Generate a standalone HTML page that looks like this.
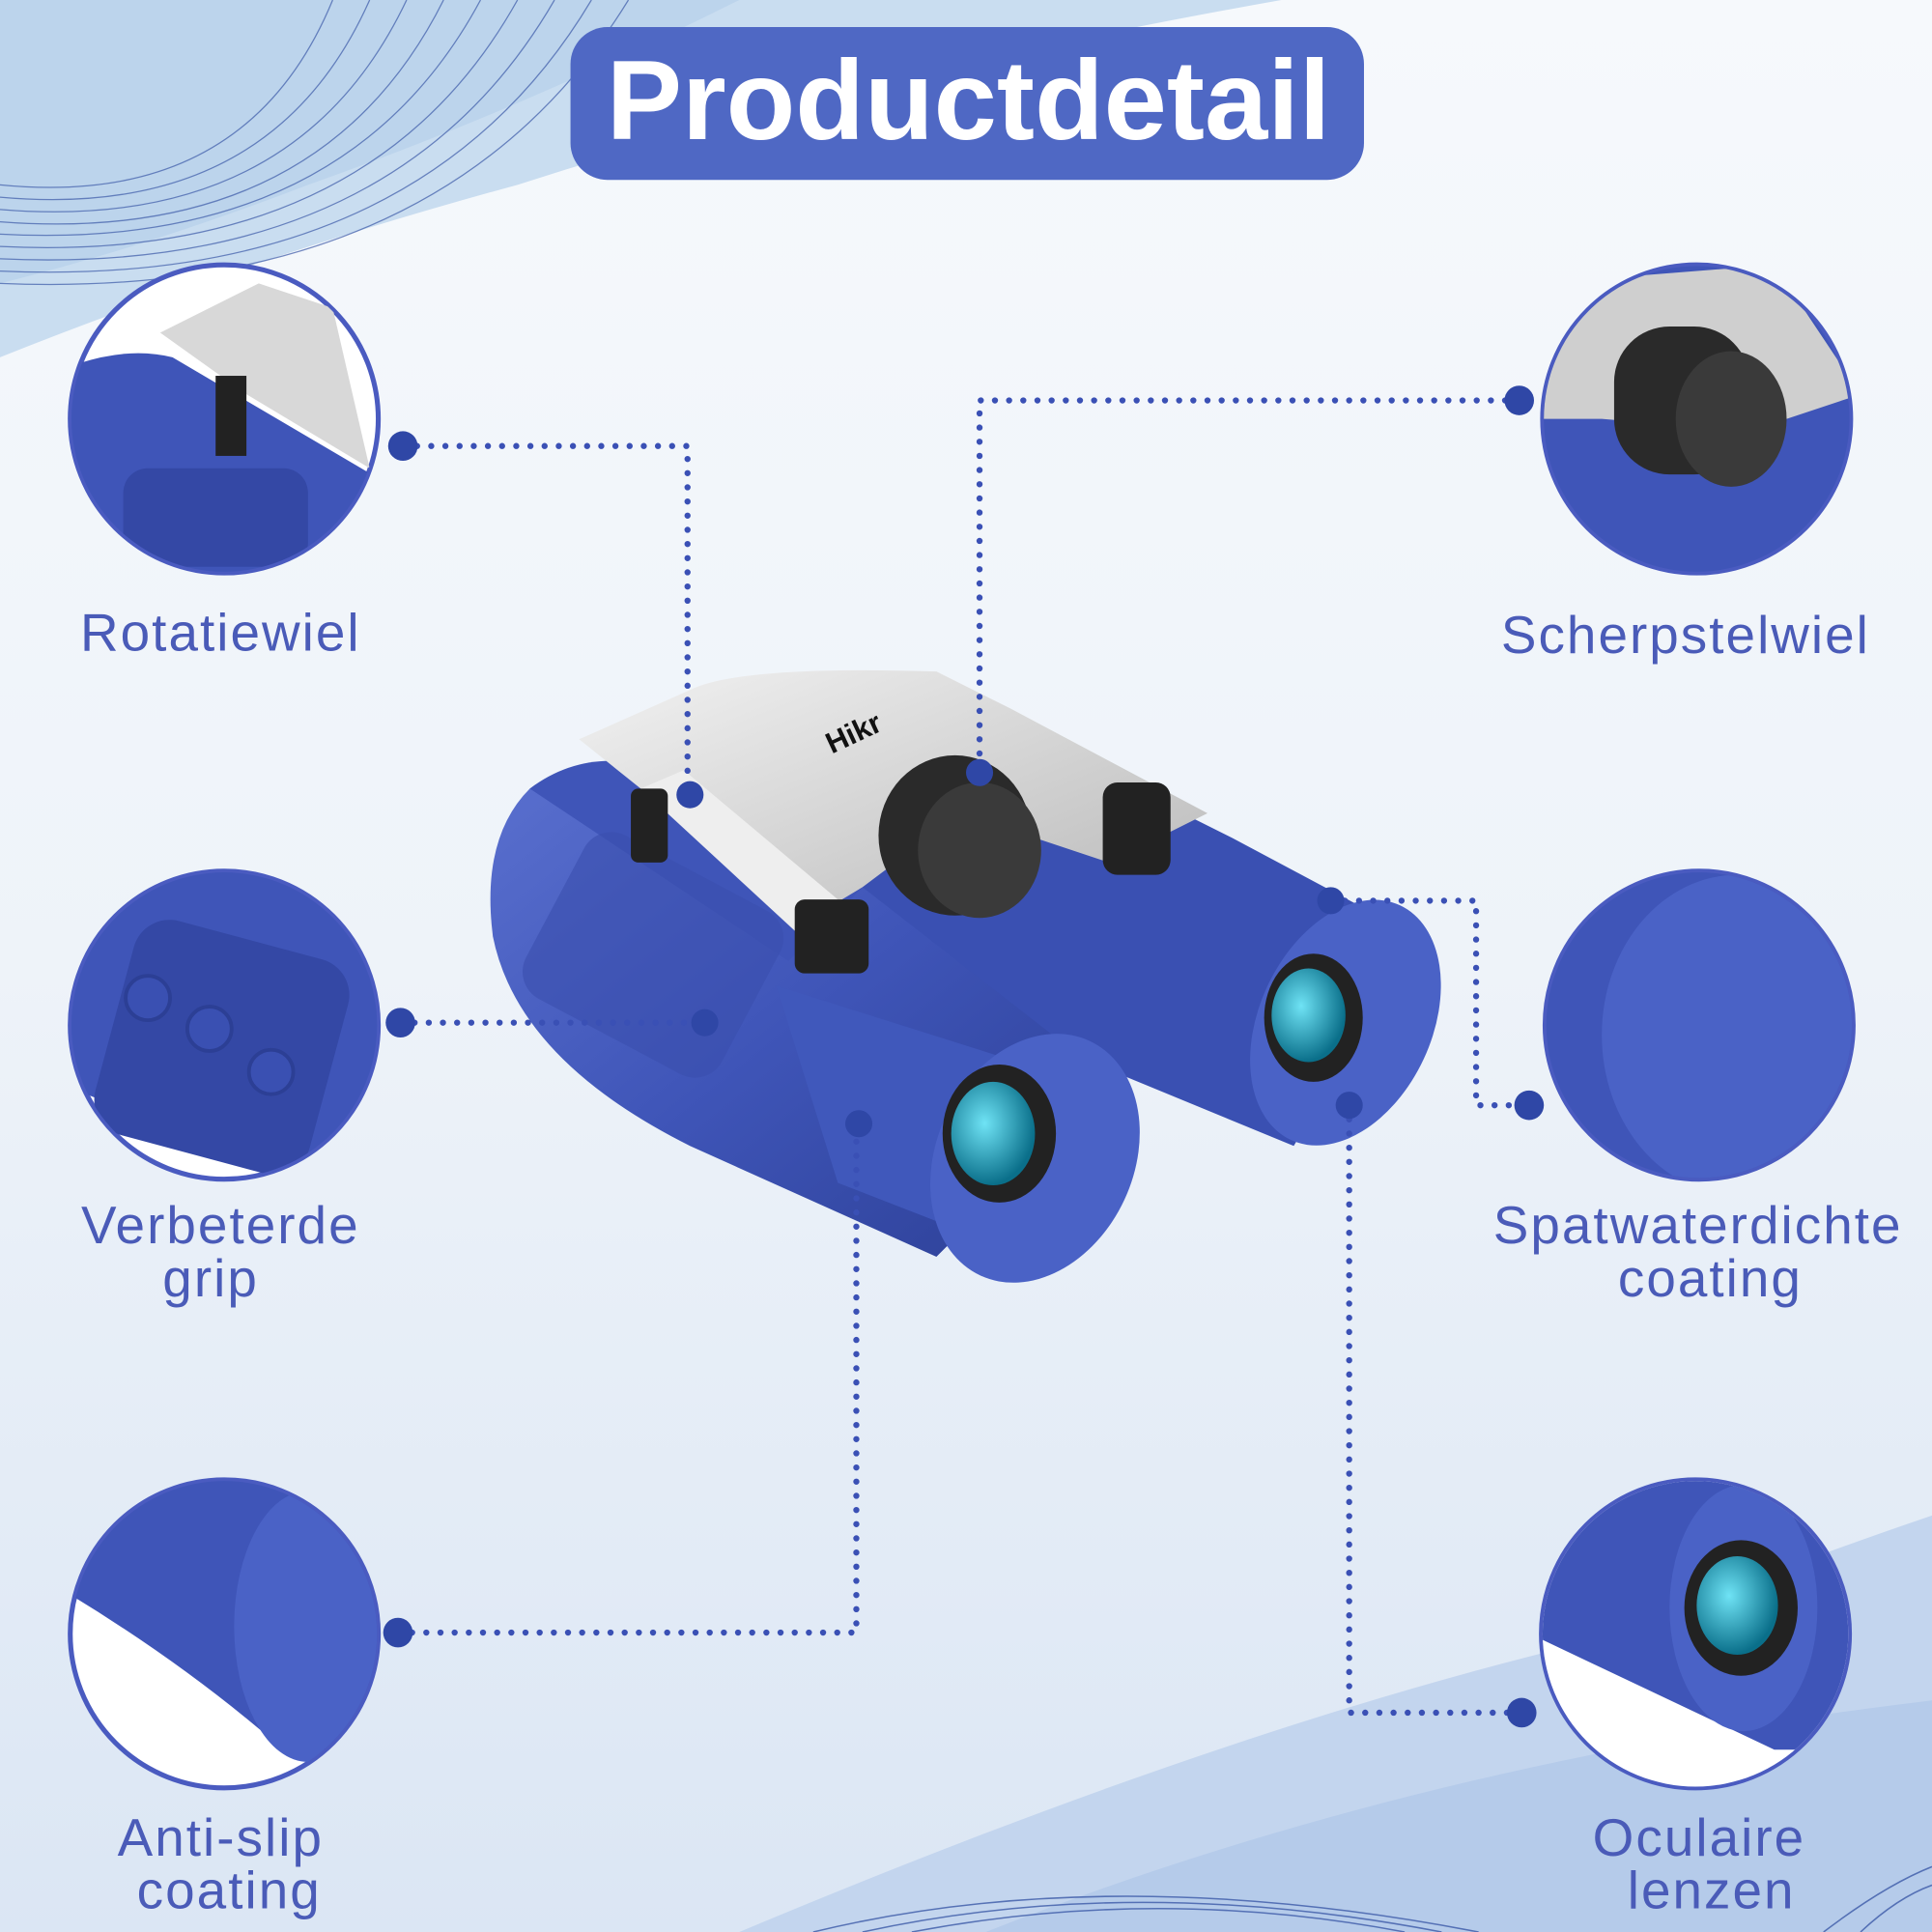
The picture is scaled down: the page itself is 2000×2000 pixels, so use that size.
<!DOCTYPE html>
<html><head><meta charset="utf-8"><style>
html,body{margin:0;padding:0;width:2000px;height:2000px;overflow:hidden;background:#eef3f9}
svg{display:block}
text{font-family:"Liberation Sans",sans-serif}
</style></head><body>
<svg width="2000" height="2000" viewBox="0 0 1568 1568" xmlns="http://www.w3.org/2000/svg">
<defs>
<linearGradient id="bg" x1="0" y1="0" x2="0" y2="1">
<stop offset="0" stop-color="#f6f9fc"/><stop offset="0.5" stop-color="#eef3f9"/><stop offset="1" stop-color="#dbe6f4"/>
</linearGradient>
<linearGradient id="barrel" x1="0" y1="0" x2="1" y2="1">
<stop offset="0" stop-color="#5a70cf"/><stop offset="0.5" stop-color="#3f55b8"/><stop offset="1" stop-color="#2c3f95"/>
</linearGradient>
<radialGradient id="lens" cx="0.4" cy="0.4" r="0.6"><stop offset="0" stop-color="#6fe3f5"/><stop offset="1" stop-color="#0a6f8a"/></radialGradient>
<linearGradient id="silver" x1="0" y1="0" x2="1" y2="1"><stop offset="0" stop-color="#f2f2f2"/><stop offset="1" stop-color="#b8b8b8"/></linearGradient>
<clipPath id="c1"><circle cx="182" cy="340" r="124"/></clipPath>
<clipPath id="c2"><circle cx="182" cy="832" r="124"/></clipPath>
<clipPath id="c3"><circle cx="182" cy="1326" r="124"/></clipPath>
<clipPath id="c4"><circle cx="1377" cy="340" r="124"/></clipPath>
<clipPath id="c5"><circle cx="1379" cy="832" r="124"/></clipPath>
<clipPath id="c6"><circle cx="1376" cy="1326" r="124"/></clipPath>
</defs>
<rect width="1568" height="1568" fill="url(#bg)"/>
<path d="M0 0 H1040 Q700 60 420 150 Q200 210 0 290 Z" fill="#c9ddf0"/>
<path d="M0 0 H600 Q420 90 250 150 Q120 200 0 230 Z" fill="#bcd4ec"/>
<g fill="none" stroke="#3c5aa8" stroke-width="1" opacity="0.7">
<path d="M0 150 Q200 170 270 0"/><path d="M0 160 Q220 180 300 0"/><path d="M0 170 Q240 190 330 0"/><path d="M0 180 Q260 200 360 0"/><path d="M0 190 Q280 205 390 0"/><path d="M0 200 Q300 215 420 0"/><path d="M0 210 Q320 225 450 0"/><path d="M0 220 Q340 235 480 0"/><path d="M0 230 Q360 245 510 0"/>
</g>
<path d="M600 1568 Q1000 1400 1300 1330 Q1450 1270 1568 1230 V1568 Z" fill="#c3d5ee"/>
<path d="M800 1568 Q1150 1430 1568 1380 V1568 Z" fill="#b5cbea"/>
<g fill="none" stroke="#3c5aa8" stroke-width="1.2" opacity="0.8">
<path d="M660 1568 Q900 1510 1200 1568"/><path d="M700 1568 Q920 1520 1170 1568"/><path d="M740 1568 Q940 1530 1140 1568"/><path d="M1480 1568 Q1530 1530 1568 1515"/><path d="M1510 1568 Q1540 1540 1568 1530"/>
</g>
<rect x="463" y="22" width="644" height="124" rx="30" fill="#4f68c4"/>
<text x="786" y="113" font-size="92" font-weight="bold" fill="#fff" text-anchor="middle">Productdetail</text>

<g>
<path d="M430 640 Q390 680 400 760 Q420 860 560 930 L760 1020 L900 880 L720 620 Z" fill="url(#barrel)"/>
<path d="M430 640 Q470 610 520 620 L720 700 L640 780 Z" fill="#3f55b8"/>
<path d="M760 560 L1000 680 L1150 760 L1050 930 L880 860 L700 720 Z" fill="#3a50b2"/>
<ellipse cx="1092" cy="830" rx="70" ry="105" transform="rotate(25 1092 830)" fill="#4a62c6"/>
<ellipse cx="1066" cy="826" rx="40" ry="52" fill="#222"/>
<ellipse cx="1062" cy="824" rx="30" ry="38" fill="url(#lens)"/>
<path d="M630 800 L820 860 L900 900 L860 1030 L680 960 Z" fill="#4058bb"/>
<ellipse cx="840" cy="940" rx="80" ry="105" transform="rotate(25 840 940)" fill="#4a62c6"/>
<ellipse cx="811" cy="920" rx="46" ry="56" fill="#222"/>
<ellipse cx="806" cy="920" rx="34" ry="42" fill="url(#lens)"/>
<rect x="440" y="700" width="180" height="150" rx="25" transform="rotate(28 530 775)" fill="#3a4fae" opacity="0.6"/>
<path d="M470 600 L560 560 Q600 540 760 545 L820 575 L980 660 L900 700 L780 660 L700 720 L650 750 L520 640 Z" fill="url(#silver)"/>
<path d="M520 640 L650 760 L680 730 L555 625 Z" fill="#eee"/>
<rect x="645" y="730" width="60" height="60" rx="8" fill="#222"/>
<rect x="512" y="640" width="30" height="60" rx="6" fill="#222"/>
<ellipse cx="775" cy="678" rx="62" ry="65" fill="#2a2a2a"/>
<ellipse cx="795" cy="690" rx="50" ry="55" fill="#3a3a3a"/>
<rect x="895" y="635" width="55" height="75" rx="12" fill="#222"/>
<text x="675" y="612" font-size="24" font-weight="bold" fill="#111" transform="rotate(-25 675 612)">Hikr</text>
</g>

<g stroke="#4a5bc0" stroke-width="4">
<circle cx="182" cy="340" r="125" fill="#fff"/>
<circle cx="182" cy="832" r="125" fill="#fff"/>
<circle cx="182" cy="1326" r="125" fill="#fff"/>
<circle cx="1377" cy="340" r="125" fill="#fff"/>
<circle cx="1379" cy="832" r="125" fill="#fff"/>
<circle cx="1376" cy="1326" r="125" fill="#fff"/>
</g>
<g clip-path="url(#c1)"><path d="M50 300 Q100 280 140 290 L310 390 L310 470 L50 470 Z" fill="#3f55b8"/><path d="M130 270 L210 230 L270 250 L300 380 L200 320 Z" fill="#d8d8d8"/><rect x="175" y="305" width="25" height="65" fill="#222"/><rect x="100" y="380" width="150" height="80" rx="20" fill="#3448a5"/></g>
<g clip-path="url(#c2)"><path d="M50 700 H320 V900 Q250 960 200 940 L50 880 Z" fill="#3f55b8"/><rect x="90" y="760" width="180" height="180" rx="30" fill="#3448a5" transform="rotate(15 180 850)"/><circle cx="120" cy="810" r="18" fill="#3a50b2" stroke="#2c3f95" stroke-width="3"/><circle cx="170" cy="835" r="18" fill="#3a50b2" stroke="#2c3f95" stroke-width="3"/><circle cx="220" cy="870" r="18" fill="#3a50b2" stroke="#2c3f95" stroke-width="3"/></g>
<g clip-path="url(#c3)"><path d="M50 1200 H320 V1420 L230 1420 Q150 1350 50 1290 Z" fill="#3f55b8"/><ellipse cx="250" cy="1320" rx="60" ry="110" fill="#4a62c6"/></g>
<g clip-path="url(#c4)"><rect x="1250" y="215" width="260" height="260" fill="#3f55b8"/><path d="M1250 230 L1440 215 L1510 320 L1420 350 L1300 340 L1250 340 Z" fill="#cfcfcf"/><rect x="1310" y="265" width="110" height="120" rx="45" fill="#2a2a2a"/><ellipse cx="1405" cy="340" rx="45" ry="55" fill="#3a3a3a"/></g>
<g clip-path="url(#c5)"><rect x="1250" y="705" width="260" height="260" fill="#3f55b8"/><ellipse cx="1410" cy="840" rx="110" ry="130" fill="#4a62c6"/></g>
<g clip-path="url(#c6)"><rect x="1250" y="1200" width="260" height="260" fill="#fff"/><path d="M1250 1200 H1510 V1420 L1440 1420 L1250 1330 Z" fill="#3f55b8"/><ellipse cx="1415" cy="1305" rx="60" ry="100" fill="#4a62c6"/><ellipse cx="1413" cy="1305" rx="46" ry="55" fill="#222"/><ellipse cx="1410" cy="1303" rx="33" ry="40" fill="url(#lens)"/></g>

<g fill="none" stroke="#3a50b5" stroke-width="5" stroke-linecap="round" stroke-dasharray="0 11.5">
<path d="M327 362 H558 V645"/>
<path d="M1233 325 H795 V627"/>
<path d="M325 830 H572"/>
<path d="M323 1325 H695 V912"/>
<path d="M1080 731 H1198 V897 H1241"/>
<path d="M1095 897 V1390 H1235"/>
</g>
<g fill="#2f47a6">
<circle cx="327" cy="362" r="12"/><circle cx="560" cy="645" r="11"/>
<circle cx="1233" cy="325" r="12"/><circle cx="795" cy="627" r="11"/>
<circle cx="325" cy="830" r="12"/><circle cx="572" cy="830" r="11"/>
<circle cx="323" cy="1325" r="12"/><circle cx="697" cy="912" r="11"/>
<circle cx="1080" cy="731" r="11"/><circle cx="1241" cy="897" r="12"/>
<circle cx="1095" cy="897" r="11"/><circle cx="1235" cy="1390" r="12"/>
</g>

<g fill="#4a5bb8" font-size="43" text-anchor="middle" letter-spacing="1.6">
<text x="179" y="528">Rotatiewiel</text>
<text x="1368" y="530">Scherpstelwiel</text>
<text x="179" y="1009">Verbeterde</text>
<text x="171" y="1052">grip</text>
<text x="1378" y="1009">Spatwaterdichte</text>
<text x="1388" y="1052">coating</text>
<text x="179" y="1506">Anti-slip</text>
<text x="186" y="1549">coating</text>
<text x="1379" y="1506">Oculaire</text>
<text x="1389" y="1549">lenzen</text>
</g>
</svg>
</body></html>
